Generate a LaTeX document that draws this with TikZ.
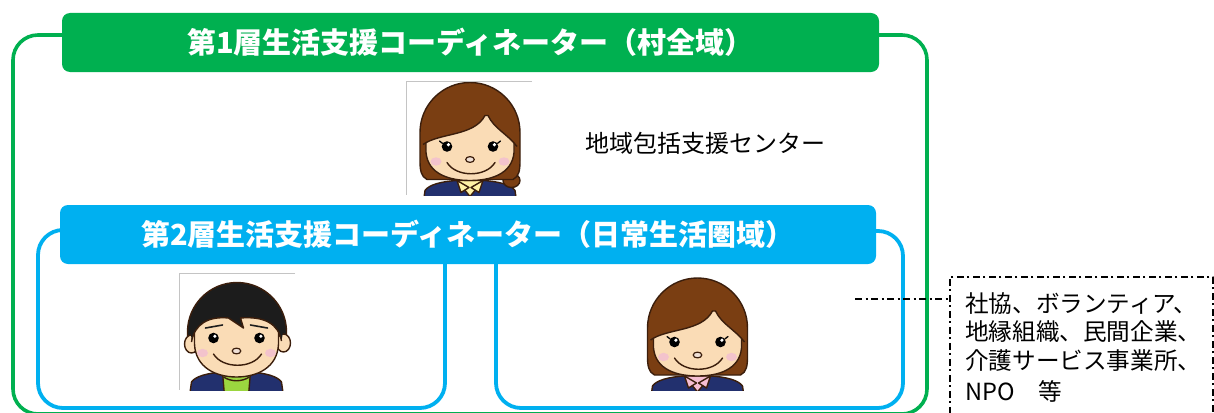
\documentclass[tikz,border=0pt]{standalone}
\usepackage{fontspec}
\setmainfont{Noto Sans CJK JP}

\definecolor{tgreen}{HTML}{00B050}
\definecolor{tblue}{HTML}{00B0F0}
\definecolor{hairbrown}{HTML}{7A3E12}
\definecolor{boyhair}{HTML}{1C1C1C}
\definecolor{faceline}{HTML}{3B1E0C}
\definecolor{skin}{HTML}{FADCB6}
\definecolor{blush}{HTML}{F3C3CC}
\definecolor{navy}{HTML}{22306E}
\definecolor{tshirt}{HTML}{9BD63F}
\definecolor{collarY}{HTML}{FFF1A6}
\definecolor{collarP}{HTML}{F6BED3}
\definecolor{nosefill}{HTML}{EFE0D6}
\definecolor{boxgray}{HTML}{C4C4C4}

\tikzset{
  outl/.style={draw=faceline, line width=1.4pt, line join=round},
  frameG/.style={draw=tgreen, line width=3.6pt, rounded corners=25pt},
  frameB/.style={draw=tblue, line width=3.8pt, rounded corners=25pt},
  banner/.style={rounded corners=8pt, text=white, inner sep=0pt,
    font=\bfseries\fontsize{29}{29}\selectfont, minimum height=59pt},
  dashdot/.style={line width=1.8pt, draw=black,
    dash pattern=on 7pt off 3.5pt on 2pt off 3.5pt},
  caption/.style={inner sep=0pt, font=\fontsize{24}{28}\selectfont},
  % navy jacket at the bottom of a portrait
  jacket/.pic={
    \path[fill=navy, outl] (-47,58) -- (-45,44) .. controls (-41,38) and (-28,35) .. (-14,34)
      -- (14,34) .. controls (28,35) and (41,38) .. (45,44) -- (47,58) -- cycle;
  },
  % blouse collar in the given colour
  blouse/.pic={
    \path[fill=#1, outl] (-13,34) -- (13,34) -- (0,50) -- cycle;
    \path[fill=#1, outl] (-13,34) -- (-1,41) -- (-9,46) -- cycle;
    \path[fill=#1, outl] (13,34) -- (1,41) -- (9,46) -- cycle;
  },
  % green T-shirt under the jacket
  tee/.pic={
    \path[fill=tshirt, outl] (-14,34) -- (-12,58) -- (12,58) -- (14,34) -- cycle;
    \draw[outl] (-13,39) .. controls (-5,44) and (5,44) .. (13,39);
  },
  % smiling face, shared parts
  smile/.pic={
    \fill[black] (-23,0) circle[radius=5.3];
    \fill[white] (-21.6,-1.8) circle[radius=1.8];
    \fill[black] (23,0) circle[radius=5.3];
    \fill[white] (24.4,-1.8) circle[radius=1.8];
    \fill[blush] (-34,15) ellipse[x radius=5.5, y radius=4.2];
    \fill[blush] (34,15) ellipse[x radius=5.5, y radius=4.2];
    \path[fill=nosefill, draw=faceline, line width=1.2pt] (0,13) ellipse[x radius=4.3, y radius=2.9];
    \draw[outl, line cap=round] (-23,16) .. controls (-14,31) and (16,31) .. (25,16);
  },
  girlhead/.pic={
    \path[fill=hairbrown, outl] (-43,33) .. controls (-49,30) and (-50,24) .. (-50,14)
      -- (-50,-14) arc[start angle=180, end angle=360, radius=50]
      -- (50,14) .. controls (50,24) and (49,30) .. (43,33) -- cycle;
    \path[fill=skin, outl] (-44,-14) arc[start angle=180, end angle=360, radius=44]
      -- (44,6) .. controls (42,28) and (20,34) .. (0,34)
      .. controls (-20,34) and (-42,28) .. (-44,6) -- cycle;
    \fill[hairbrown] (-47,-2) .. controls (-30,-14) and (4,-10) .. (15,-31) -- (18,-31)
      .. controls (24,-18) and (38,-12) .. (47,0) -- (47,-14)
      arc[start angle=360, end angle=180, radius=47] -- cycle;
    \draw[outl] (-47,-2) .. controls (-30,-14) and (4,-10) .. (15,-31) -- (18,-31)
      .. controls (24,-18) and (38,-12) .. (47,0);
    \draw[black, line width=1.3pt, line cap=round] (-27.6,-3.2) -- (-30.5,-5.5);
    \draw[black, line width=1.3pt, line cap=round] (27.6,-3.2) -- (30.5,-5.5);
    \pic {smile};
  },
  boyhead/.pic={
    \path[fill=boyhair, outl] (-49,6) -- (-49,-6) arc[start angle=180, end angle=360, radius=49.5]
      -- (50,6) -- cycle;
    \path[fill=skin, outl] (-45,6) ellipse[x radius=7, y radius=9];
    \path[fill=skin, outl] (47,5) ellipse[x radius=7, y radius=9];
    \path[fill=skin, outl] (-42,-6) arc[start angle=180, end angle=360, radius=42]
      -- (42,6) .. controls (41,30) and (20,39) .. (0,39)
      .. controls (-20,39) and (-41,30) .. (-42,6) -- cycle;
    \fill[boyhair] (-45,4) .. controls (-42,-14) and (-28,-22) .. (-8,-20) -- (7,-10) -- (4,-20)
      .. controls (28,-22) and (42,-14) .. (45,3) -- (46.5,-6)
      arc[start angle=360, end angle=180, radius=46] -- cycle;
    \draw[outl] (-45,4) .. controls (-42,-14) and (-28,-22) .. (-8,-20) -- (7,-10) -- (4,-20)
      .. controls (28,-22) and (42,-14) .. (45,3);
    \draw[boyhair, line width=1.6pt, line cap=round] (-31,-10) -- (-14,-13);
    \draw[boyhair, line width=1.6pt, line cap=round] (14,-13) -- (31,-10);
    \pic {smile};
  },
}

\begin{document}
\begin{tikzpicture}[x=1pt, y=-1pt, line join=round]
\useasboundingbox (0,0) rectangle (1214,412);

% area frames
\draw[frameG] (13,35) rectangle (927,414);
\draw[frameB] (38,230) rectangle (445,408);
\draw[frameB] (496,231) rectangle (903,408);

% link to the partner organisations
\node[dashdot, draw, anchor=north west, inner sep=0pt,
      minimum width=263pt, minimum height=160pt] (others) at (949,276) {};
\coordinate (tap) at (855,299);
\draw[dashdot] (tap) -- (tap -| others.west);
\node[anchor=north west, align=left, inner sep=0pt,
      font=\fontsize{23.6}{28.5}\selectfont] (partners) at (965,292)
  {社協、ボランティア、\\地縁組織、民間企業、\\介護サービス事業所、\\[3pt]NPO　等};

% tier banners
\node[banner, fill=tgreen, minimum width=817pt] (tier1) at (470.5,42.5)
  {第1層生活支援コーディネーター（村全域）};
\node[banner, fill=tblue, minimum width=816pt] (tier2) at (468,234.5)
  {第2層生活支援コーディネーター（日常生活圏域）};

\node[caption, anchor=west] (center) at (585,143) {地域包括支援センター};

% portrait: first-tier coordinator
\begin{scope}
  \clip (406,81) rectangle (532,195);
  \pic at (470,146.5) {jacket};
  \pic at (470,146.5) {blouse=collarY};
  \path[fill=hairbrown, outl] (470,146.5) ++(41.5,34) ellipse[x radius=8.5, y radius=7];
  \pic at (470,146.5) {girlhead};
\end{scope}
\draw[boxgray, line width=1pt] (532,81) -- (406,81) -- (406,195);

% portrait: second-tier coordinator (left)
\begin{scope}
  \clip (179,273) rectangle (295,390);
  \pic at (236.5,338) {jacket};
  \pic at (236.5,338) {tee};
  \pic at (236.5,338) {boyhead};
\end{scope}
\draw[boxgray, line width=1pt] (295,273) -- (179,273) -- (179,390);

% portrait: second-tier coordinator (right)
\begin{scope}
  \clip (640,265) rectangle (760,390);
  \pic at (697.5,342) {jacket};
  \pic at (697.5,342) {blouse=collarP};
  \pic at (697.5,342) {girlhead};
\end{scope}
\end{tikzpicture}
\end{document}
